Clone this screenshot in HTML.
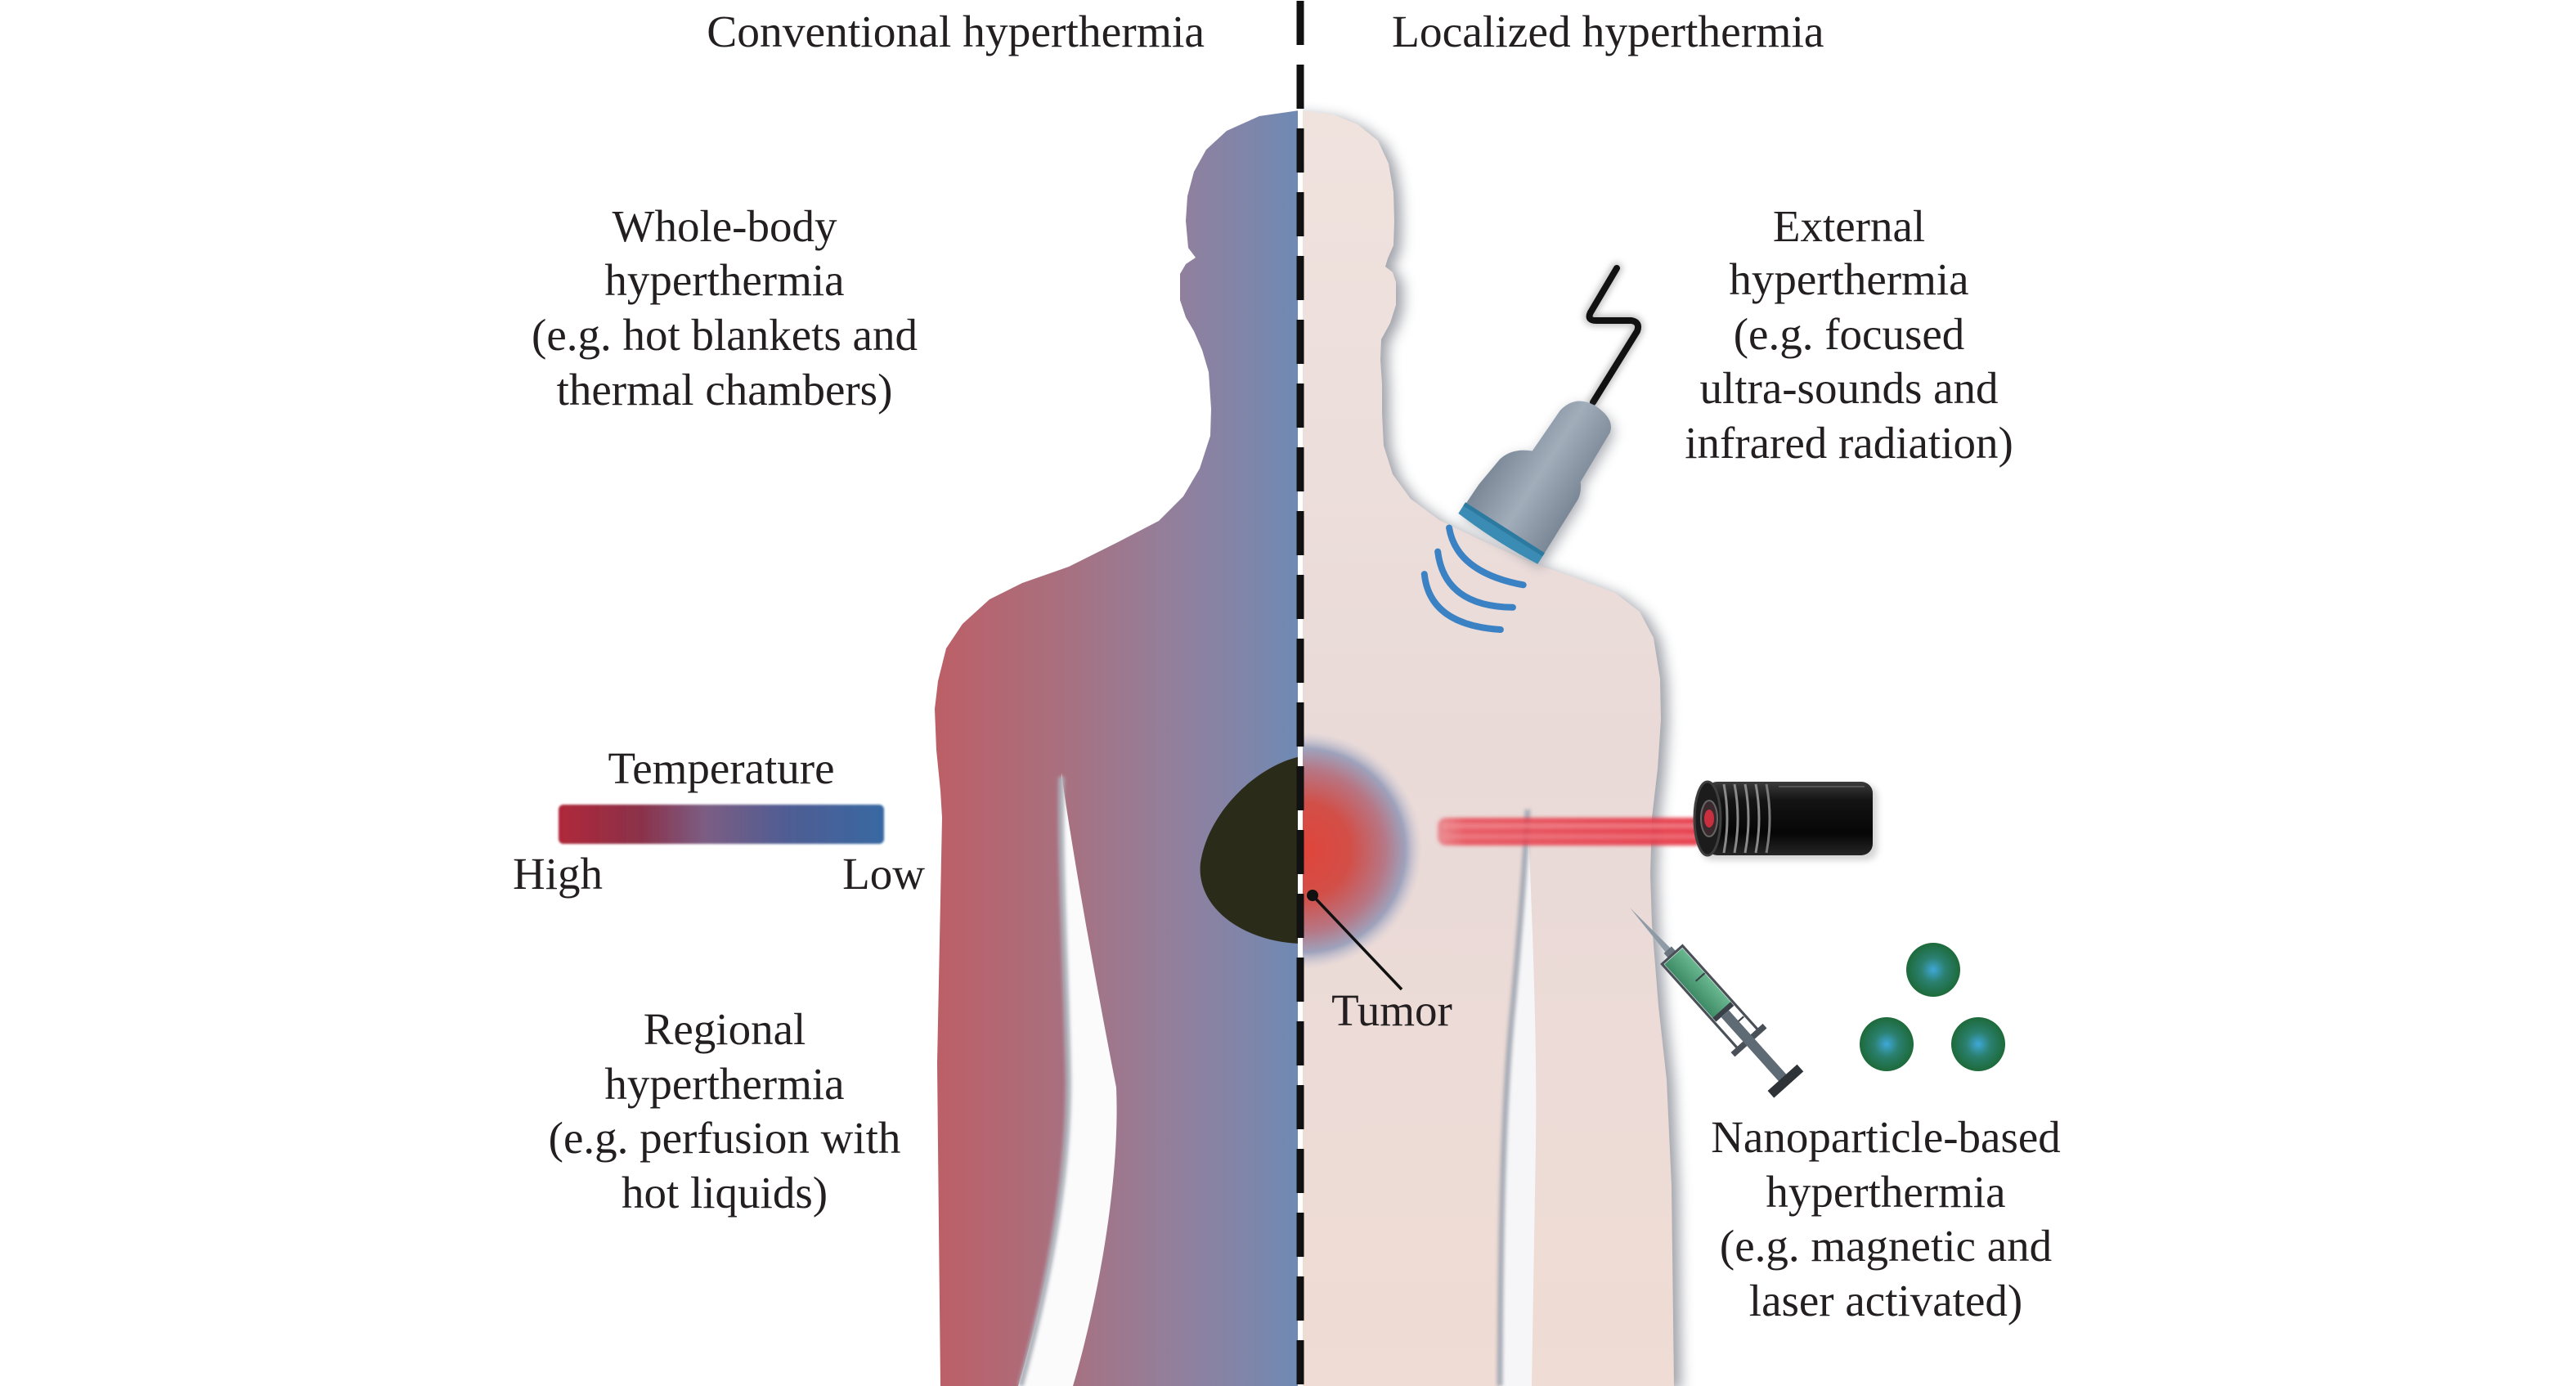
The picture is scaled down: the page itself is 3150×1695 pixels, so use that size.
<!DOCTYPE html>
<html>
<head>
<meta charset="utf-8">
<style>
html,body{margin:0;padding:0;background:#fff;}
svg{display:block;}
text{font-family:"Liberation Serif","Times New Roman",serif;fill:#231f20;}
</style>
</head>
<body>
<svg width="3150" height="1695" viewBox="0 0 3150 1695" xmlns="http://www.w3.org/2000/svg">
<defs>
  <path id="body" d="M1589,135 L1630,140 L1660,152 L1685,172 L1698,200 L1704,235 L1705,270 L1704,300 L1697,316 L1694,326 L1703,333 L1707,345 L1707,373 L1700,395 L1689,415 L1688,440 L1690,470 L1690,505 L1692,545 L1703,580 L1725,610 L1760,636 L1810,660 L1865,685 L1930,708 L1975,725 L2005,748 L2022,780 L2030,830 L2031,880 L2027,940 L2020,1000 L2018,1070 L2020,1130 L2028,1230 L2038,1320 L2044,1450 L2047,1695 L1150,1695 L1148,1500 L1146,1300 L1150,1100 L1152,1000 L1150,967 L1145,917 L1143,867 L1147,833 L1157,793 L1177,763 L1210,733 L1250,713 L1307,693 L1367,663 L1417,637 L1447,607 L1467,573 L1480,533 L1481,500 L1478,455 L1470,428 L1460,405 L1450,388 L1443,367 L1443,335 L1450,323 L1462,315 L1453,303 L1450,270 L1452,240 L1460,210 L1475,183 L1500,160 L1540,142 Z"/>
  <clipPath id="clipL"><rect x="0" y="0" width="1587" height="1695"/></clipPath>
  <clipPath id="clipR"><rect x="1593" y="0" width="1557" height="1695"/></clipPath>
  <linearGradient id="gL" gradientUnits="userSpaceOnUse" x1="1145" y1="0" x2="1588" y2="0">
    <stop offset="0" stop-color="#bd5f67"/>
    <stop offset="0.35" stop-color="#a8707f"/>
    <stop offset="0.62" stop-color="#957e99"/>
    <stop offset="0.85" stop-color="#8085a9"/>
    <stop offset="1" stop-color="#6e8ab4"/>
  </linearGradient>
  <linearGradient id="gR" gradientUnits="userSpaceOnUse" x1="0" y1="140" x2="0" y2="1695">
    <stop offset="0" stop-color="#f0e3de"/>
    <stop offset="0.5" stop-color="#e9dad8"/>
    <stop offset="1" stop-color="#efdcd4"/>
  </linearGradient>
  <filter id="blur8" x="-20%" y="-20%" width="140%" height="140%"><feGaussianBlur stdDeviation="8"/></filter>
  <filter id="blur4" x="-30%" y="-30%" width="160%" height="160%"><feGaussianBlur stdDeviation="4"/></filter>
  <filter id="blur2" x="-20%" y="-50%" width="140%" height="200%"><feGaussianBlur stdDeviation="2"/></filter>
  <filter id="blur1"><feGaussianBlur stdDeviation="1.2"/></filter>
  <radialGradient id="gTum" gradientUnits="userSpaceOnUse" cx="1594" cy="1040" r="145">
    <stop offset="0" stop-color="#e0443a"/>
    <stop offset="0.4" stop-color="#d24f48"/>
    <stop offset="0.68" stop-color="#b77684"/>
    <stop offset="0.86" stop-color="#9ea2bc"/>
    <stop offset="1" stop-color="#c9c6d4" stop-opacity="0"/>
  </radialGradient>
  <linearGradient id="gBar" x1="0" y1="0" x2="1" y2="0">
    <stop offset="0" stop-color="#b0283a"/>
    <stop offset="0.25" stop-color="#8b3149"/>
    <stop offset="0.45" stop-color="#7c5d83"/>
    <stop offset="0.7" stop-color="#4f5d93"/>
    <stop offset="1" stop-color="#3868a2"/>
  </linearGradient>
  <radialGradient id="gNano" cx="0.5" cy="0.5" r="0.5">
    <stop offset="0" stop-color="#3fa8d8"/>
    <stop offset="0.45" stop-color="#2b8070"/>
    <stop offset="1" stop-color="#1d6a3a"/>
  </radialGradient>
  <linearGradient id="gProbe" gradientUnits="userSpaceOnUse" x1="-56" y1="0" x2="58" y2="0">
    <stop offset="0" stop-color="#7a8796"/>
    <stop offset="0.5" stop-color="#a2adba"/>
    <stop offset="1" stop-color="#7a8796"/>
  </linearGradient>
  <linearGradient id="gLaser" x1="0" y1="0" x2="0" y2="1">
    <stop offset="0" stop-color="#3c3c3c"/>
    <stop offset="0.25" stop-color="#141414"/>
    <stop offset="0.7" stop-color="#060606"/>
    <stop offset="1" stop-color="#262626"/>
  </linearGradient>
  <linearGradient id="gBeam" x1="0" y1="0" x2="1" y2="0">
    <stop offset="0" stop-color="#e8404c" stop-opacity="0.5"/>
    <stop offset="0.1" stop-color="#e8404c" stop-opacity="0.8"/>
    <stop offset="1" stop-color="#e63848" stop-opacity="0.95"/>
  </linearGradient>
  <linearGradient id="gGreen" x1="0" y1="0" x2="0" y2="1">
    <stop offset="0" stop-color="#6ab890"/>
    <stop offset="1" stop-color="#3d8a66"/>
  </linearGradient>
</defs>

<!-- body shadow on the right half -->
<g clip-path="url(#clipR)">
  <use href="#body" fill="#7f838d" opacity="0.75" filter="url(#blur8)" transform="translate(9,5)"/>
</g>
<!-- left half -->
<g clip-path="url(#clipL)">
  <use href="#body" fill="url(#gL)"/>
</g>
<!-- right half -->
<g clip-path="url(#clipR)">
  <use href="#body" fill="url(#gR)"/>
</g>

<!-- left arm gap -->
<path d="M1298,945 C1305,1000 1330,1150 1365,1330 C1370,1450 1340,1600 1312,1695 L1245,1695 C1285,1560 1310,1420 1306,1300 C1302,1150 1296,1050 1298,945 Z" fill="#fbfbfc"/>
<path d="M1298,950 C1296,1050 1302,1150 1306,1300 C1310,1420 1285,1560 1248,1695" fill="none" stroke="#aeb1b9" stroke-width="7" filter="url(#blur2)"/>
<!-- right arm gap -->
<path d="M1868,985 C1872,1100 1880,1250 1878,1400 L1873,1695 L1833,1695 C1835,1500 1838,1350 1850,1230 C1860,1120 1866,1040 1868,985 Z" fill="#f6f6f8"/>
<path d="M1868,990 C1866,1040 1860,1120 1850,1230 C1838,1350 1835,1500 1834,1695" fill="none" stroke="#a7acb6" stroke-width="7" filter="url(#blur2)"/>

<!-- tumor -->
<g clip-path="url(#clipL)">
  <path d="M1591,925 C1540,935 1478,990 1468,1055 C1462,1110 1520,1152 1591,1154 Z" fill="#2b2b19"/>
</g>
<g clip-path="url(#clipR)">
  <circle cx="1594" cy="1040" r="145" fill="url(#gTum)"/>
</g>

<!-- dashed divider -->
<line x1="1590" y1="1" x2="1590" y2="1695" stroke="#111" stroke-width="9" stroke-dasharray="54 24"/>

<!-- tumor pointer -->
<line x1="1605" y1="1095" x2="1714" y2="1210" stroke="#111" stroke-width="3.5"/>
<circle cx="1605" cy="1095" r="7" fill="#111"/>

<!-- ultrasound cable -->
<path d="M1977,328 L1945,382 Q1940,392 1952,392 L1995,392 Q2006,394 2002,405 L1948,492" fill="none" stroke="#888" stroke-width="14" stroke-linejoin="round" stroke-linecap="round" opacity="0.5" filter="url(#blur4)"/>
<path d="M1977,328 L1945,382 Q1940,392 1952,392 L1995,392 Q2006,394 2002,405 L1948,492" fill="none" stroke="#111" stroke-width="8" stroke-linejoin="round" stroke-linecap="round"/>

<!-- ultrasound probe -->
<g transform="translate(1833,656) rotate(32.6)">
  <path d="M-56,0 L-55,-40 L-50,-80 Q-45,-100 -22,-110 L-20,-170 Q-15,-196 12,-198 Q42,-198 46,-180 L48,-110 Q56,-100 57,-90 L58,0 Z" fill="#6f7580" opacity="0.6" filter="url(#blur8)" transform="translate(6,4)"/>
  <path d="M-56,0 L-55,-40 L-50,-80 Q-45,-100 -22,-110 L-20,-170 Q-15,-196 12,-198 Q42,-198 46,-180 L48,-110 Q56,-100 57,-90 L58,0 Z" fill="url(#gProbe)"/>
  <path d="M-57,-13 L58,-13 L58,3 Q0,8 -57,3 Z" fill="#3b8cb4"/>
  <path d="M-57,-13 L58,-13 L58,-8 L-57,-8 Z" fill="#2d7aa0"/>
  <path d="M-57,24 Q-20,65 57,34" fill="none" stroke="#3b82c4" stroke-width="8" stroke-linecap="round"/>
  <path d="M-53,56 Q-10,108 61,64" fill="none" stroke="#3b82c4" stroke-width="8" stroke-linecap="round"/>
  <path d="M-52,88 Q-13,137 63,95" fill="none" stroke="#3b82c4" stroke-width="8" stroke-linecap="round"/>
</g>

<!-- laser beam -->
<g filter="url(#blur2)">
  <rect x="1758" y="1000" width="324" height="34" rx="10" fill="url(#gBeam)"/>
  <rect x="1765" y="1008" width="315" height="4" fill="#f28c94" opacity="0.8"/>
  <rect x="1765" y="1021" width="315" height="4" fill="#f28c94" opacity="0.6"/>
</g>
<!-- laser body -->
<g>
  <rect x="2080" y="960" width="216" height="92" rx="14" fill="#888" opacity="0.35" filter="url(#blur4)"/>
  <rect x="2086" y="956" width="204" height="90" rx="14" fill="url(#gLaser)"/>
  <line x1="2175" y1="962" x2="2280" y2="962" stroke="#555" stroke-width="2"/>
  <path d="M2108,959 Q2116,1001 2108,1043" fill="none" stroke="#8a8a8a" stroke-width="3"/>
  <path d="M2121,959 Q2129,1001 2121,1043" fill="none" stroke="#8a8a8a" stroke-width="3"/>
  <path d="M2134,959 Q2142,1001 2134,1043" fill="none" stroke="#8a8a8a" stroke-width="3"/>
  <path d="M2147,959 Q2155,1001 2147,1043" fill="none" stroke="#8a8a8a" stroke-width="3"/>
  <path d="M2160,959 Q2168,1001 2160,1043" fill="none" stroke="#7a7a7a" stroke-width="3"/>
  <ellipse cx="2088" cy="1001" rx="16" ry="45" fill="#1c1c1c" stroke="#3e3e3e" stroke-width="3"/>
  <ellipse cx="2090" cy="1001" rx="10" ry="22" fill="#3a2a2e" stroke="#666" stroke-width="2"/>
  <ellipse cx="2090" cy="1001" rx="6" ry="11" fill="#c83040"/>
</g>

<!-- syringe -->
<g transform="translate(1993,1110) rotate(48.1) scale(1.05)">
  <polygon points="0,0 72,-4 72,4" fill="#8e9aa6"/>
  <rect x="66" y="-6" width="10" height="12" fill="#6a747e"/>
  <rect x="74" y="-16" width="132" height="32" fill="#ffffff" stroke="#4a5058" stroke-width="3"/>
  <rect x="76" y="-14" width="86" height="28" fill="url(#gGreen)"/>
  <line x1="115" y1="-14" x2="115" y2="0" stroke="#3a4048" stroke-width="2"/>
  <rect x="160" y="-14" width="6" height="28" fill="#3a4048"/>
  <line x1="183" y1="-14" x2="183" y2="0" stroke="#3a4048" stroke-width="2"/>
  <rect x="204" y="-25" width="7" height="50" fill="#4a5058"/>
  <rect x="166" y="-6" width="102" height="12" fill="#5e6a74"/>
  <rect x="266" y="-23" width="11" height="46" fill="#2e3338"/>
</g>

<!-- nanoparticles -->
<circle cx="2364" cy="1186" r="33" fill="url(#gNano)"/>
<circle cx="2307" cy="1277" r="33" fill="url(#gNano)"/>
<circle cx="2419" cy="1277" r="33" fill="url(#gNano)"/>

<!-- temperature bar -->
<rect x="683" y="984" width="398" height="48" rx="6" fill="url(#gBar)" filter="url(#blur1)"/>

<!-- titles -->
<text x="1473" y="57" font-size="55.5" text-anchor="end" font-family="Liberation Serif, serif">Conventional hyperthermia</text>
<text x="1702" y="57" font-size="55.5" text-anchor="start" font-family="Liberation Serif, serif">Localized hyperthermia</text>

<!-- texts -->
<g font-size="55" text-anchor="middle" font-family="Liberation Serif, serif">
  <text x="886" y="295">Whole-body</text>
  <text x="886" y="361">hyperthermia</text>
  <text x="886" y="428">(e.g. hot blankets and</text>
  <text x="886" y="495">thermal chambers)</text>

  <text x="882" y="958">Temperature</text>

  <text x="886" y="1277">Regional</text>
  <text x="886" y="1344">hyperthermia</text>
  <text x="886" y="1410">(e.g. perfusion with</text>
  <text x="886" y="1477">hot liquids)</text>

  <text x="2261" y="295">External</text>
  <text x="2261" y="360">hyperthermia</text>
  <text x="2261" y="427">(e.g. focused</text>
  <text x="2261" y="493">ultra-sounds and</text>
  <text x="2261" y="560">infrared radiation)</text>

  <text x="1702" y="1254">Tumor</text>

  <text x="2306" y="1409">Nanoparticle-based</text>
  <text x="2306" y="1476">hyperthermia</text>
  <text x="2306" y="1542">(e.g. magnetic and</text>
  <text x="2306" y="1609">laser activated)</text>
</g>
<text x="627" y="1087" font-size="55" text-anchor="start" font-family="Liberation Serif, serif">High</text>
<text x="1131" y="1087" font-size="55" text-anchor="end" font-family="Liberation Serif, serif">Low</text>
</svg>
</body>
</html>
